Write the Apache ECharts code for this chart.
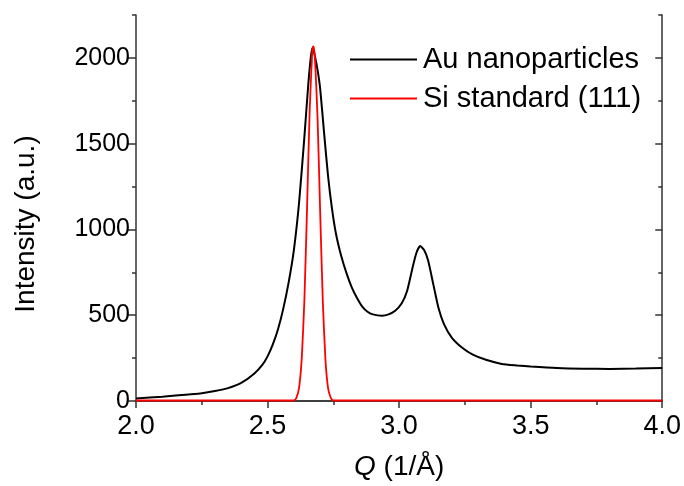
<!DOCTYPE html>
<html>
<head>
<meta charset="utf-8">
<script src="https://cdn.jsdelivr.net/npm/echarts@6/dist/echarts.min.js"></script>
<style>
html, body { margin: 0; padding: 0; background: #fff; }
#main { width: 684px; height: 486px; }
</style>
</head>
<body>
<div id="main"></div>
<script>
// Au nanoparticles, Q (1/Å) and intensity
var auQ = [2.00, 2.10, 2.20, 2.25, 2.30, 2.35, 2.40, 2.45, 2.48, 2.50, 2.52, 2.54, 2.56, 2.58, 2.60,
	2.62, 2.64, 2.655, 2.665, 2.672, 2.68, 2.69, 2.70, 2.715, 2.73, 2.745, 2.76, 2.78, 2.80, 2.82,
	2.84, 2.86, 2.88, 2.90, 2.935, 2.96, 2.985, 3.01, 3.03, 3.05, 3.065, 3.08, 3.095, 3.11, 3.13,
	3.15, 3.17, 3.20, 3.24, 3.28, 3.33, 3.39, 3.45, 3.50, 3.60, 3.70, 3.80, 3.90, 4.00];
var auI = [15, 25, 38, 45, 58, 75, 105, 160, 210, 260, 330, 420, 540, 690, 880,
	1160, 1540, 1850, 2010, 2060, 2010, 1930, 1820, 1560, 1310, 1120, 975, 845, 745, 662,
	600, 550, 520, 505, 497, 505, 526, 570, 640, 770, 860, 903, 880, 820, 680,
	540, 450, 370, 310, 270, 240, 216, 207, 201, 192, 188, 187, 189, 193];

// Si standard (111)
var siQ = [2.00, 2.60, 2.61, 2.62, 2.63, 2.64, 2.65, 2.66, 2.67, 2.674, 2.68, 2.69, 2.70, 2.71, 2.72, 2.73, 2.74, 2.75, 4.00];
var siI = [3, 3, 20, 80, 250, 590, 1120, 1690, 2040, 2068, 2000, 1650, 1100, 580, 240, 75, 20, 3, 3];

var yMajor = [0, 500, 1000, 1500, 2000];

var seriesNames = ['Au nanoparticles', 'Si standard (111)'];
var font = '"Liberation Sans", Arial, sans-serif';
var axisColor = '#333';

function pairs(xs, ys) {
	var out = [];
	for (var i = 0; i < xs.length; i++) {
		out.push([xs[i], ys[i]]);
	}
	return out;
}

var myChart = echarts.init(document.getElementById('main'));

var option = {
	backgroundColor: '#fff',
	animation: false,
	grid: { left: 136, right: 19, top: 15, bottom: 82 },
	legend: {
		data: seriesNames,
		orient: 'vertical',
		left: 345,
		top: 40,
		icon: 'rect',
		itemWidth: 67,
		itemHeight: 2,
		itemGap: 10,
		textStyle: { fontFamily: font, fontSize: 29, color: '#000', lineHeight: 29, padding: [0, 0, 0, 1] }
	},
	xAxis: [{
		type: 'value',
		min: 2,
		max: 4,
		interval: 0.5,
		name: '{i|Q} (1/Å)',
		nameLocation: 'middle',
		nameGap: 52,
		nameTextStyle: {
			fontFamily: font, fontSize: 28, color: '#000',
			rich: { i: { fontFamily: font, fontSize: 28, fontStyle: 'italic', color: '#000' } }
		},
		axisLine: { lineStyle: { color: axisColor, width: 1.5 } },
		axisTick: { inside: false, length: 7, lineStyle: { color: axisColor, width: 1.5 } },
		minorTick: { show: true, splitNumber: 2, length: 4, lineStyle: { color: axisColor, width: 1.5 } },
		axisLabel: {
			margin: 12, fontFamily: font, fontSize: 27, color: '#000',
			formatter: function (v) { return v.toFixed(1); }
		},
		splitLine: { show: false }
	}, {
		type: 'value',
		position: 'top',
		min: 2,
		max: 4,
		interval: 0.5,
		axisLine: { show: true, lineStyle: { color: axisColor, width: 1.5 } },
		axisTick: { inside: true, length: 7, lineStyle: { color: axisColor, width: 1.5 } },
		minorTick: { show: true, splitNumber: 2, length: 4, lineStyle: { color: axisColor, width: 1.5 } },
		axisLabel: { show: false },
		splitLine: { show: false }
	}],
	yAxis: [{
		type: 'value',
		min: 0,
		max: 2250,
		interval: 250,
		name: 'Intensity (a.u.)',
		nameLocation: 'middle',
		nameGap: 96,
		nameTextStyle: { fontFamily: font, fontSize: 28, color: '#000', padding: [0, 32, 0, 0] },
		axisLine: { show: true, lineStyle: { color: axisColor, width: 1.5 } },
		axisTick: { length: 8, customValues: yMajor, lineStyle: { color: axisColor, width: 1.5 } },
		axisLabel: {
			margin: 6, customValues: yMajor, fontFamily: font, fontSize: 25, color: '#000',
			formatter: function (v) { return String(v); }
		},
		splitLine: { show: false }
	}, {
		// minor ticks on the left side
		type: 'value',
		position: 'left',
		min: 0,
		max: 2250,
		interval: 250,
		axisLine: { show: false },
		axisTick: { length: 4, lineStyle: { color: axisColor, width: 1.5 } },
		axisLabel: { show: false },
		splitLine: { show: false }
	}, {
		type: 'value',
		position: 'right',
		min: 0,
		max: 2250,
		interval: 250,
		axisLine: { show: true, lineStyle: { color: axisColor, width: 1.5 } },
		axisTick: { inside: true, length: 7, customValues: yMajor, lineStyle: { color: axisColor, width: 1.5 } },
		axisLabel: { show: false },
		splitLine: { show: false }
	}, {
		type: 'value',
		position: 'right',
		min: 0,
		max: 2250,
		interval: 250,
		axisLine: { show: false },
		axisTick: { inside: true, length: 4, lineStyle: { color: axisColor, width: 1.5 } },
		axisLabel: { show: false },
		splitLine: { show: false }
	}],
	series: [{
		name: seriesNames[0],
		type: 'line',
		symbol: 'none',
		smooth: 0.2,
		data: pairs(auQ, auI),
		lineStyle: { color: '#000', width: 2 },
		itemStyle: { color: '#000' },
		z: 3
	}, {
		name: seriesNames[1],
		type: 'line',
		symbol: 'none',
		smooth: 0.2,
		data: pairs(siQ, siI),
		lineStyle: { color: '#ff0000', width: 1.8 },
		itemStyle: { color: '#ff0000' },
		z: 4
	}]
};
myChart.setOption(option);
</script>
</body>
</html>
